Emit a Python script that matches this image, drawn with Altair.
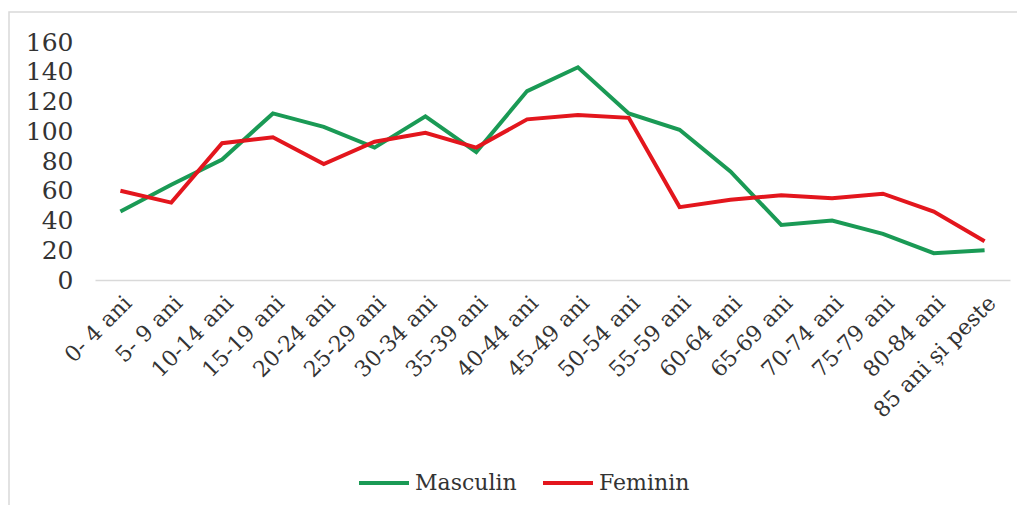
import altair as alt
import pandas as pd

categories = ["0- 4 ani", "5- 9 ani", "10-14 ani", "15-19 ani", "20-24 ani", "25-29 ani",
              "30-34 ani", "35-39 ani", "40-44 ani", "45-49 ani", "50-54 ani", "55-59 ani",
              "60-64 ani", "65-69 ani", "70-74 ani", "75-79 ani", "80-84 ani", "85 ani și peste"]
masculin = [46, 64, 81, 112, 103, 89, 110, 86, 127, 143, 112, 101, 73, 37, 40, 31, 18, 20]
feminin = [60, 52, 92, 96, 78, 93, 99, 89, 108, 111, 109, 49, 54, 57, 55, 58, 46, 26]
series = ["Masculin", "Feminin"]
colors = ["#1a9a55", "#e3161d"]
y_ticks = [0, 20, 40, 60, 80, 100, 120, 140, 160]

rows = []
for i, c in enumerate(categories):
    rows.append({"grupa": c, "serie": "Masculin", "valoare": masculin[i]})
    rows.append({"grupa": c, "serie": "Feminin", "valoare": feminin[i]})
df = pd.DataFrame(rows)

FONT = "DejaVu Serif"
TXT = "#333333"

lines = alt.Chart(df).mark_line(strokeWidth=4, strokeJoin="miter").encode(
    x=alt.X("grupa:N", sort=categories, title=None,
            scale=alt.Scale(paddingInner=0, paddingOuter=0.5),
            axis=alt.Axis(labelAngle=-45, labelFont=FONT, labelFontSize=22,
                          labelColor=TXT, domain=False, ticks=False,
                          labelPadding=12, labelOverlap=False, labelLimit=400)),
    y=alt.Y("valoare:Q", title=None,
            scale=alt.Scale(domain=[0, 160], nice=False),
            axis=alt.Axis(values=y_ticks, labelOverlap=False, labelBound=False,
                          labelFont=FONT, labelFontSize=25, labelColor=TXT,
                          domain=False, ticks=False, grid=True, gridWidth=1.5,
                          gridColor={"condition": {"test": "datum.value === 0",
                                                   "value": "#d9d9d9"},
                                     "value": "transparent"},
                          labelPadding=22)),
    color=alt.Color("serie:N", sort=series,
                    scale=alt.Scale(domain=series, range=colors),
                    legend=alt.Legend(title=None, orient="none", direction="horizontal",
                                      legendX=262, legendY=414,
                                      symbolType="stroke", symbolSize=2500,
                                      symbolStrokeWidth=4, labelFont=FONT,
                                      labelFontSize=22, labelColor=TXT,
                                      columnPadding=18, labelOffset=4)),
    detail="serie:N",
)

frame = alt.Chart(pd.DataFrame({"v": [0]})).mark_rect(
    fill=None, stroke="#d9d9d9", strokeWidth=1.5).encode(
    x=alt.value(-86), x2=alt.value(960), y=alt.value(-30), y2=alt.value(520))

chart = alt.layer(lines, frame).properties(
    width=915, height=238,
    autosize=alt.AutoSizeParams(type="none"),
    padding={"left": 87, "top": 34, "right": 7, "bottom": 225},
    background="white",
).configure_view(stroke=None)

chart.save("out.html", embed_options={"renderer": "svg", "actions": False})
